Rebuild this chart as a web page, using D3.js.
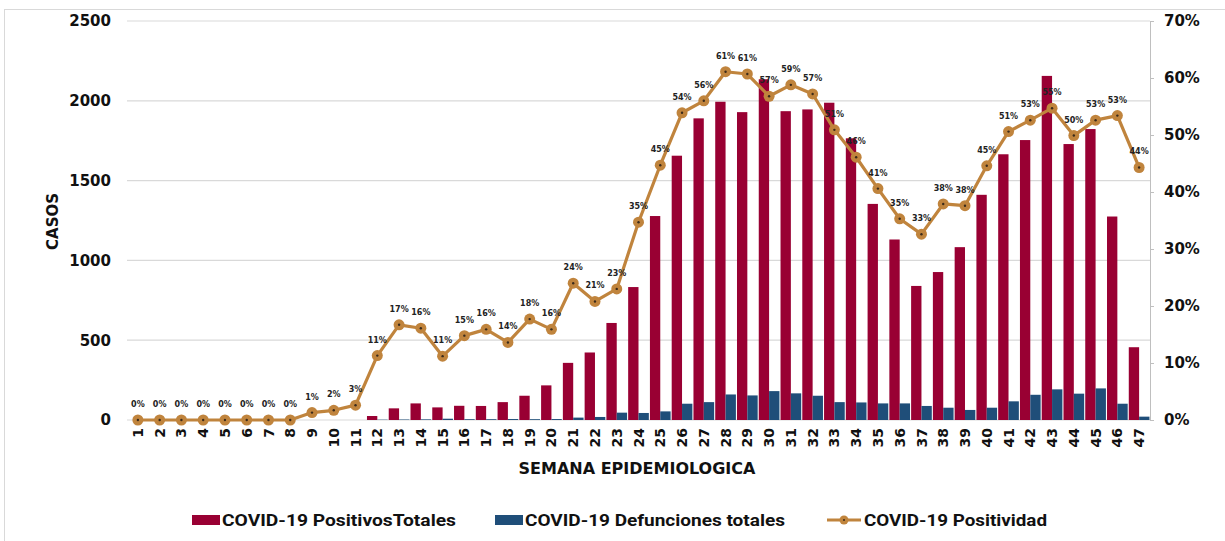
<!DOCTYPE html>
<html>
<head>
<meta charset="utf-8">
<script src="https://cdn.jsdelivr.net/npm/d3@7"></script>
<style>
  body { margin: 0; background: #fff; }
  svg { display: block; }
</style>
</head>
<body>
<svg id="chart"></svg>
<script>
// epidemiological weeks 1..47
const weeks = d3.range(1, 48);

// COVID-19 PositivosTotales (cases per week)
const positivos = [0, 0, 0, 0, 0, 0, 0, 0, 0, 0, 0, 25, 73, 104, 79, 89, 88, 112, 152, 217,
  358, 423, 608, 833, 1278, 1656, 1890, 1994, 1929, 2135, 1935, 1946, 1988, 1765, 1354, 1131,
  840, 927, 1083, 1411, 1665, 1754, 2156, 1729, 1823, 1275, 456];

// COVID-19 Defunciones totales
const defunciones = [0, 0, 0, 0, 0, 0, 0, 0, 0, 0, 0, 2, 3, 4, 8, 5, 5, 6, 5, 6,
  15, 19, 46, 44, 54, 102, 112, 160, 154, 181, 167, 152, 112, 110, 104, 104,
  88, 77, 63, 77, 117, 158, 192, 165, 198, 102, 21];

// COVID-19 Positividad (%)
const positividad = [0, 0, 0, 0, 0, 0, 0, 0, 1.3, 1.7, 2.6, 11.3, 16.7, 16.1, 11.2, 14.8, 15.9, 13.6, 17.7, 15.9,
  24.0, 20.8, 23.0, 34.7, 44.7, 53.9, 56.0, 61.1, 60.7, 56.8, 58.8, 57.2, 50.9, 46.1, 40.6, 35.3,
  32.6, 37.9, 37.6, 44.6, 50.6, 52.6, 54.7, 49.9, 52.6, 53.4, 44.3];

const leftTicks = [0, 500, 1000, 1500, 2000, 2500];
const rightTicks = [0, 10, 20, 30, 40, 50, 60, 70];

const series = ["COVID-19 PositivosTotales", "COVID-19 Defunciones totales", "COVID-19 Positividad"];

const W = 1225, H = 541;
const margin = { top: 21, right: 75, bottom: 121, left: 127 };
const red = "#990033", blue = "#1f4e79", tan = "#c0843d";
const axisFont = "'DejaVu Sans', sans-serif";

const svg = d3.select("#chart").attr("width", W).attr("height", H);

// outer frame
svg.append("rect")
  .attr("x", 4.5).attr("y", 9.5)
  .attr("width", W + 10).attr("height", H + 10)
  .attr("fill", "none")
  .attr("stroke", "#d9d9d9");

const x = d3.scaleBand()
  .domain(weeks)
  .range([margin.left, W - margin.right])
  .paddingInner(0.05)
  .paddingOuter(0.025);

const xSub = d3.scaleBand()
  .domain(["pos", "def"])
  .range([0, x.bandwidth()]);

const y = d3.scaleLinear().domain([0, 2500]).range([H - margin.bottom, margin.top]);
const y2 = d3.scaleLinear().domain([0, 70]).range([H - margin.bottom, margin.top]);

// gridlines
svg.append("g")
  .selectAll("line")
  .data(leftTicks)
  .join("line")
  .attr("x1", margin.left)
  .attr("x2", W - margin.right)
  .attr("y1", d => y(d))
  .attr("y2", d => y(d))
  .attr("stroke", "#d9d9d9")
  .attr("stroke-width", 1.2);

// left axis
const yAxis = svg.append("g")
  .attr("transform", `translate(${margin.left - 16}, 0)`)
  .call(d3.axisLeft(y).tickValues(leftTicks).tickFormat(d3.format("d")).tickSize(0).tickPadding(0));
yAxis.select(".domain").remove();
yAxis.selectAll("text")
  .style("font-family", axisFont)
  .style("font-weight", "bold")
  .style("font-size", "15px")
  .attr("fill", "#111");

// right axis
const y2Axis = svg.append("g")
  .attr("transform", `translate(${W - margin.right}, 0)`)
  .call(d3.axisRight(y2).tickValues(rightTicks).tickFormat(d => d + "%").tickSize(4).tickPadding(10));
y2Axis.select(".domain").attr("stroke", "#bfbfbf");
y2Axis.selectAll(".tick line").attr("stroke", "#bfbfbf");
y2Axis.selectAll("text")
  .style("font-family", axisFont)
  .style("font-weight", "bold")
  .style("font-size", "15px")
  .attr("fill", "#111");

// bars
const groups = svg.append("g")
  .selectAll("g")
  .data(weeks)
  .join("g")
  .attr("transform", d => `translate(${x(d)}, 0)`);

groups.append("rect")
  .attr("x", xSub("pos"))
  .attr("width", xSub.bandwidth())
  .attr("y", (d, i) => y(positivos[i]))
  .attr("height", (d, i) => y(0) - y(positivos[i]))
  .attr("fill", red);

groups.append("rect")
  .attr("x", xSub("def"))
  .attr("width", xSub.bandwidth())
  .attr("y", (d, i) => y(defunciones[i]))
  .attr("height", (d, i) => y(0) - y(defunciones[i]))
  .attr("fill", blue);

// x axis labels
const xAxis = svg.append("g")
  .attr("transform", `translate(0, ${y(0)})`)
  .call(d3.axisBottom(x).tickSize(0).tickPadding(0));
xAxis.select(".domain").remove();
xAxis.selectAll("text")
  .attr("transform", "rotate(-90)")
  .attr("x", -8)
  .attr("y", 0)
  .attr("dy", "0.36em")
  .attr("text-anchor", "end")
  .style("font-family", axisFont)
  .style("font-weight", "bold")
  .style("font-size", "14px")
  .attr("fill", "#111");

// positivity line
const cx = d => x(d) + x.bandwidth() / 2;
const line = d3.line()
  .x(d => cx(d))
  .y((d, i) => y2(positividad[i]));

svg.append("path")
  .datum(weeks)
  .attr("d", line)
  .attr("fill", "none")
  .attr("stroke", tan)
  .attr("stroke-width", 3.2)
  .attr("stroke-linejoin", "round");

const pts = svg.append("g")
  .selectAll("g")
  .data(weeks)
  .join("g")
  .attr("transform", (d, i) => `translate(${cx(d)}, ${y2(positividad[i])})`);

pts.append("circle").attr("r", 5.5).attr("fill", tan);
pts.append("circle").attr("r", 1.2).attr("fill", "#3a2a1a");

pts.append("text")
  .attr("y", -13)
  .attr("text-anchor", "middle")
  .style("font-family", axisFont)
  .style("font-weight", "bold")
  .style("font-size", "8px")
  .attr("fill", "#222")
  .text((d, i) => Math.round(positividad[i]) + "%");

// axis titles
svg.append("text")
  .attr("transform", `translate(58, ${(y(0) + y(2500)) / 2 + 1}) rotate(-90)`)
  .attr("text-anchor", "middle")
  .style("font-family", axisFont)
  .style("font-weight", "bold")
  .style("font-size", "15px")
  .attr("fill", "#111")
  .text("CASOS");

svg.append("text")
  .attr("x", 637)
  .attr("y", 474)
  .attr("text-anchor", "middle")
  .style("font-family", axisFont)
  .style("font-weight", "bold")
  .style("font-size", "16px")
  .attr("fill", "#111")
  .text("SEMANA EPIDEMIOLOGICA");

// legend
const legendX = [192, 495, 827];
const legendW = [234, 260, 183];
const legend = svg.append("g").attr("transform", "translate(0, 520)");
const items = legend.selectAll("g")
  .data(series)
  .join("g")
  .attr("transform", (d, i) => `translate(${legendX[i]}, 0)`);

items.filter((d, i) => i < 2)
  .append("rect")
  .attr("x", 0).attr("y", -5)
  .attr("width", 28).attr("height", 10)
  .attr("fill", (d, i) => i === 0 ? red : blue);

const lineItem = items.filter((d, i) => i === 2);
lineItem.append("line")
  .attr("x1", 0).attr("x2", 34)
  .attr("stroke", tan).attr("stroke-width", 3.2);
lineItem.append("circle").attr("cx", 17).attr("r", 4.5).attr("fill", tan);
lineItem.append("circle").attr("cx", 17).attr("r", 1).attr("fill", "#3a2a1a");

items.append("text")
  .attr("x", (d, i) => i === 2 ? 37 : 30)
  .attr("dy", "0.35em")
  .attr("textLength", (d, i) => legendW[i])
  .attr("lengthAdjust", "spacingAndGlyphs")
  .style("font-family", "Roboto, sans-serif")
  .style("font-weight", "bold")
  .style("font-size", "16px")
  .attr("fill", "#111")
  .text(d => d);
</script>
</body>
</html>
